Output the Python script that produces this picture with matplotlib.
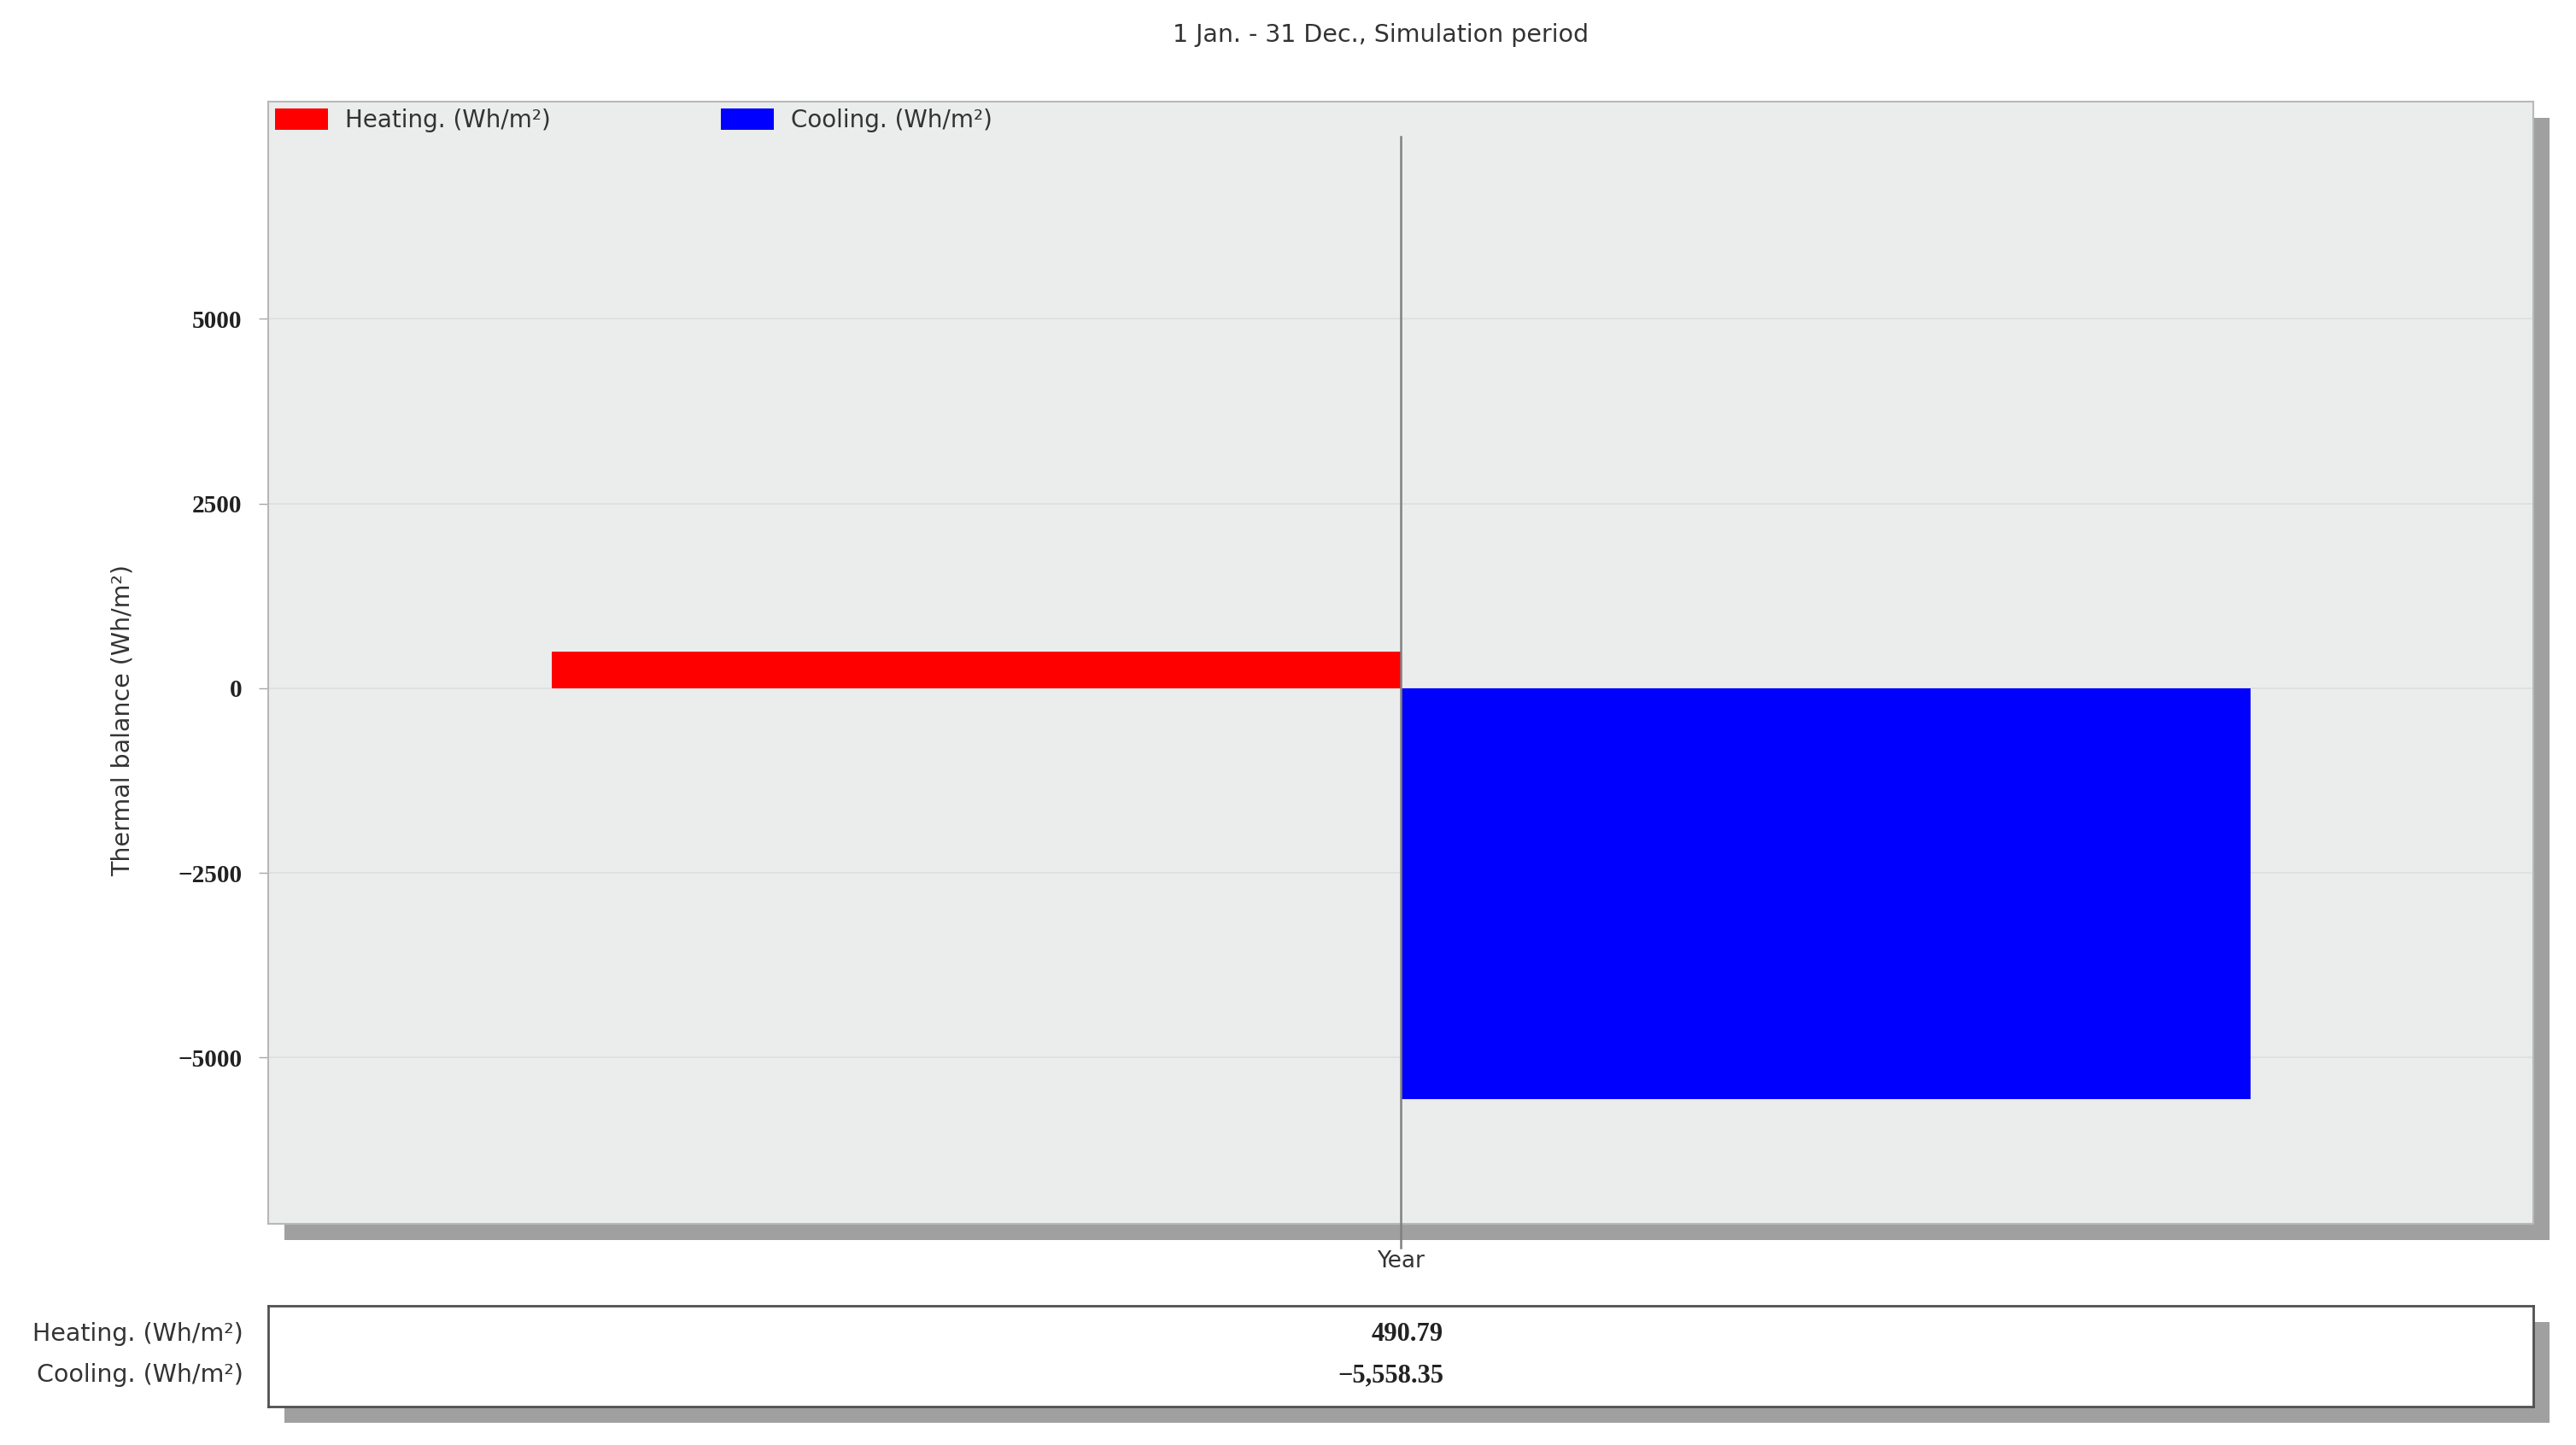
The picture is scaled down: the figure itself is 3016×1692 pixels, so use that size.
import matplotlib
matplotlib.use("Agg")
import matplotlib.pyplot as plt
from matplotlib.patches import Rectangle, Patch

# ---- data ----
categories = ["Year"]
heating = [490.79]
cooling = [-5558.35]
series_names = ["Heating. (Wh/m²)", "Cooling. (Wh/m²)"]
y_ticks = [-5000, -2500, 0, 2500, 5000]
title = "1 Jan. - 31 Dec., Simulation period"
y_label = "Thermal balance (Wh/m²)"

W, H = 3016, 1692
fig = plt.figure(figsize=(W / 100, H / 100), dpi=100)
fig.patch.set_facecolor("white")

def fig_rect(left, top, right, bottom):
    return [left / W, 1 - bottom / H, (right - left) / W, (bottom - top) / H]

SANS = ["DejaVu Sans"]
SERIF = ["Liberation Serif", "DejaVu Serif"]

# main axes
ax_l, ax_t, ax_r, ax_b = 314, 119, 2966, 1433
sh = 19
shadow1 = Rectangle(((ax_l + sh) / W, 1 - (ax_b + sh) / H), (ax_r - ax_l) / W, (ax_b - ax_t) / H,
                    transform=fig.transFigure, facecolor="#a0a0a0", edgecolor="none", zorder=-1)
fig.patches.append(shadow1)

ax = fig.add_axes(fig_rect(ax_l, ax_t, ax_r, ax_b))
ax.set_facecolor("#ebeded")
bar_w = 0.375
ax.bar(categories, heating, width=-bar_w, align="edge", color="#ff0000", zorder=3)
ax.bar(categories, cooling, width=bar_w, align="edge", color="#0000ff", zorder=3)
ax.set_xlim(-0.5, 0.5)
ax.set_ylim(-7250, 7940)
ax.set_yticks(y_ticks)
ax.yaxis.grid(True, color="#dcdfdf", linewidth=1.2, zorder=0)
ax.set_axisbelow(True)
ax.axvline(0, ymin=-0.021, ymax=0.969, color="#808080", linewidth=1.8, clip_on=False, zorder=4)

for s in ax.spines.values():
    s.set_color("#b8b8b8")
    s.set_linewidth(1.5)

ax.tick_params(axis="y", direction="out", length=8, width=1, color="#a8a8a8", pad=14)
ax.tick_params(axis="x", length=0, pad=22)
for lbl in ax.get_yticklabels():
    lbl.set_fontfamily(SERIF)
    lbl.set_fontweight("bold")
    lbl.set_fontsize(21)
    lbl.set_color("#222222")
for lbl in ax.get_xticklabels():
    lbl.set_fontfamily(SANS)
    lbl.set_fontsize(19)
    lbl.set_color("#333333")

ax.set_ylabel(y_label, fontsize=20.5, family=SANS, color="#333333")
ax.yaxis.set_label_coords(-0.0588, 0.449)

fig.text((1617 - 1508) / W + 0.5, 1 - 41 / H, title, ha="center", va="center",
         fontsize=20.5, family=SANS, color="#333333")

handles = [Patch(facecolor="#ff0000", edgecolor="none"), Patch(facecolor="#0000ff", edgecolor="none")]
leg = ax.legend(handles, series_names, loc="upper left", bbox_to_anchor=(0.0, 1.0), ncol=2,
                frameon=False, fontsize=20, handlelength=2.23, handleheight=1.0,
                handletextpad=0.7, columnspacing=7.2, borderaxespad=0.2, borderpad=0.1)
for t in leg.get_texts():
    t.set_color("#333333")
    t.set_fontfamily(SANS)

# table
tb_l, tb_t, tb_r, tb_b = 314, 1529, 2966, 1647
shadow2 = Rectangle(((tb_l + sh) / W, 1 - (tb_b + sh) / H), (tb_r - tb_l) / W, (tb_b - tb_t) / H,
                    transform=fig.transFigure, facecolor="#a0a0a0", edgecolor="none", zorder=-1)
fig.patches.append(shadow2)
tax = fig.add_axes(fig_rect(tb_l, tb_t, tb_r, tb_b))
tax.set_facecolor("white")
tax.set_xticks([])
tax.set_yticks([])
for s in tax.spines.values():
    s.set_color("#505050")
    s.set_linewidth(2)

values = [heating[0], cooling[0]]
row_y = [0.72, 0.31]
for name, v, yy in zip(series_names, values, row_y):
    txt = f"{v:,.2f}".replace("-", "\u2212")
    tax.text((1690 - tb_l) / (tb_r - tb_l), yy, txt, transform=tax.transAxes, ha="right", va="center",
             fontsize=22, family=SERIF, fontweight="bold", color="#222222")
    fig.text(285 / W, (1 - (tb_b - yy * (tb_b - tb_t)) / H), name, ha="right", va="center",
             fontsize=20.5, family=SANS, color="#333333")

fig.savefig("out.png", dpi=100)
